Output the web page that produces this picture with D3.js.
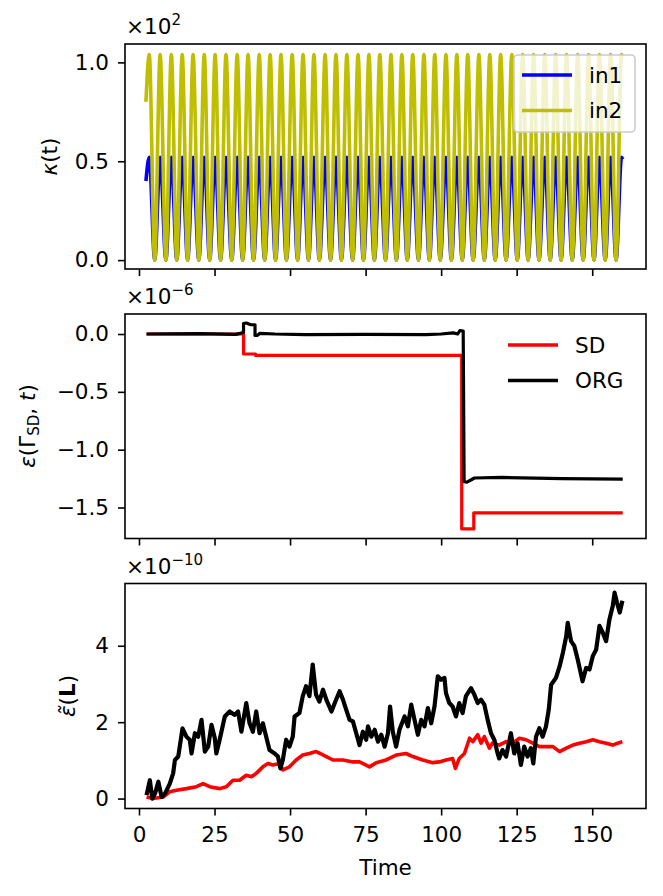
<!DOCTYPE html>
<html>
<head>
<meta charset="utf-8">
<script src="https://cdn.jsdelivr.net/npm/d3@7"></script>
<style>
  body { margin: 0; background: #fff; }
  svg { font-family: "DejaVu Sans", sans-serif; }
</style>
</head>
<body>
<svg id="chart" width="663" height="896"></svg>
<script>
const kappaT = [2.3,
  3.4, 5.2, 7.0, 8.9, 10.7, 12.5, 14.3, 16.1, 17.9, 19.8,
  21.6, 23.4, 25.2, 27.0, 28.8, 30.7, 32.5, 34.3, 36.1, 37.9,
  39.8, 41.6, 43.4, 45.2, 47.0, 48.8, 50.7, 52.5, 54.3, 56.1,
  57.9, 59.7, 61.6, 63.4, 65.2, 67.0, 68.8, 70.7, 72.5, 74.3,
  76.1, 77.9, 79.7, 81.6, 83.4, 85.2, 87.0, 88.8, 90.6, 92.5,
  94.3, 96.1, 97.9, 99.7, 101.6, 103.4, 105.2, 107.0, 108.8, 110.6,
  112.5, 114.3, 116.1, 117.9, 119.7, 121.5, 123.4, 125.2, 127.0, 128.8,
  130.6, 132.4, 134.3, 136.1, 137.9, 139.7, 141.5, 143.4, 145.2, 147.0,
  148.8, 150.6, 152.4, 154.3, 156.1, 157.9, 159.7, 160.1];
const in1Vals = [40,
  52, 0, 52, 0, 52, 0, 52, 0, 52, 0, 52, 0, 52, 0, 52, 0, 52, 0, 52, 0,
  52, 0, 52, 0, 52, 0, 52, 0, 52, 0, 52, 0, 52, 0, 52, 0, 52, 0, 52, 0,
  52, 0, 52, 0, 52, 0, 52, 0, 52, 0, 52, 0, 52, 0, 52, 0, 52, 0, 52, 0,
  52, 0, 52, 0, 52, 0, 52, 0, 52, 0, 52, 0, 52, 0, 52, 0, 52, 0, 52, 0,
  52, 0, 52, 0, 52, 0,
  52, 51];
const in2Vals = [80,
  104, 0, 104, 0, 104, 0, 104, 0, 104, 0, 104, 0, 104, 0, 104, 0, 104, 0, 104, 0,
  104, 0, 104, 0, 104, 0, 104, 0, 104, 0, 104, 0, 104, 0, 104, 0, 104, 0, 104, 0,
  104, 0, 104, 0, 104, 0, 104, 0, 104, 0, 104, 0, 104, 0, 104, 0, 104, 0, 104, 0,
  104, 0, 104, 0, 104, 0, 104, 0, 104, 0, 104, 0, 104, 0, 104, 0, 104, 0, 104, 0,
  104, 0, 104, 0, 104, 0,
  104, 103];

// ---- middle panel: epsilon(Gamma_SD, t), in units of 1e-6
const sdT = [2.5, 34.6, 34.6, 38.6, 38.6, 106.8, 106.8, 110.8, 110.8, 160.1];
const sdV = [0, 0, -0.173, -0.173, -0.185, -0.185, -1.685, -1.685, -1.546, -1.546];
const orgT = [2.5, 20, 32, 33.8, 34.6, 34.6, 35.5, 37.0, 38.4, 38.4, 39.2, 40.0, 45, 55, 75, 95,
  100, 104, 105.5, 106.2, 107.3, 107.6, 108.5, 110, 111, 120, 140, 160.1];
const orgV = [0, 0.003, -0.003, 0.008, 0.014, 0.09, 0.095, 0.08, 0.08, -0.012, -0.012, 0.006, 0, -0.006, -0.004, -0.006,
  0, 0.01, 0, 0.03, 0.025, -1.277, -1.28, -1.26, -1.245, -1.24, -1.25, -1.255];

// ---- bottom panel: tilde epsilon(L), in units of 1e-10
const errOrgT = [2.5, 3.6, 4.4, 5.3, 6.4, 7.5, 8.6, 10.2, 11.3, 11.9, 13.0, 14.4, 15.7, 16.8, 17.4, 18.5, 19.6, 20.7,
  21.8, 22.9, 24.0, 25.1, 25.6, 26.7, 28.4, 30.0, 31.7, 32.8, 33.9, 35.5, 36.6, 37.7, 38.8, 39.9, 41.0, 42.1,
  43.2, 44.9, 46.0, 46.8, 47.6, 48.7, 49.8, 50.9, 51.5, 53.1, 54.2, 55.3, 56.4, 57.5, 58.6, 59.7, 60.9, 62.0,
  63.7, 64.8, 66.4, 67.5, 68.6, 69.7, 70.8, 71.9, 73.0, 74.1, 75.2, 75.8, 76.9, 78.0, 79.1, 80.2, 81.3, 82.4,
  83.1, 84.0, 85.1, 86.2, 87.9, 89.0, 90.1, 91.2, 92.3, 93.4, 94.5, 95.6, 96.7, 97.8, 98.9, 100.0, 101.1,
  101.6, 102.7, 103.8, 104.9, 106.0, 107.1, 108.2, 109.9, 111.0, 112.1, 113.2, 114.3, 115.4, 116.5, 117.6,
  118.7, 119.2, 120.3, 121.5, 123.1, 124.2, 125.3, 126.4, 127.5, 128.6, 129.7, 130.5, 131.4, 132.5, 133.6,
  134.7, 135.6, 136.4, 138.0, 139.2, 140.3, 141.4, 141.9, 143.0, 144.1, 145.2, 146.3, 146.8, 148.0, 149.1,
  150.2, 151.3, 152.4, 153.5, 154.6, 155.7, 156.8, 157.4, 158.2, 159.1, 160.0];
const errOrgV = [0.09, 0.48, 0.0, 0.13, 0.44, 0.04, 0.13, 0.39, 0.66, 1.01, 1.10, 1.84, 1.62, 1.54, 1.18, 1.71, 1.62, 2.06,
  1.23, 1.36, 1.93, 1.58, 1.18, 1.54, 2.15, 2.28, 2.19, 2.28, 1.75, 2.50, 1.97, 1.75, 2.28, 1.71, 1.97, 1.62,
  1.27, 1.18, 1.10, 0.79, 1.01, 1.54, 1.36, 1.62, 2.15, 2.24, 2.68, 2.94, 2.68, 3.51, 2.72, 2.54, 2.85, 2.59,
  2.28, 2.50, 2.81, 2.59, 2.32, 2.06, 2.02, 1.71, 1.40, 1.75, 1.54, 1.89, 1.62, 1.80, 1.49, 1.67, 1.36, 1.71,
  2.41, 1.75, 1.36, 1.80, 2.15, 1.89, 2.46, 2.06, 1.67, 2.06, 1.89, 2.37, 1.97, 2.41, 3.20, 3.11, 3.16,
  2.76, 2.50, 2.41, 2.15, 2.50, 2.24, 2.68, 2.89, 2.72, 2.50, 2.59, 2.46, 2.06, 1.71, 1.54,
  1.18, 1.05, 1.27, 1.10, 1.71, 1.18, 1.45, 0.88, 1.36, 1.10, 1.32, 0.92, 1.62, 1.84, 1.62,
  1.89, 2.32, 2.98, 3.16, 3.46, 3.82, 4.25, 4.60, 4.12, 3.99, 3.64, 3.25, 3.07, 3.42, 3.38,
  3.73, 3.90, 4.52, 4.34, 4.12, 4.69, 5.04, 5.39, 5.13, 4.87, 5.18];
const errSdT = [2.5, 4.7, 8.0, 10.2, 12.4, 15.7, 19.0, 21.2, 23.4, 26.7, 28.9, 31.1, 33.3, 35.5, 37.2, 38.8, 41.0,
  42.7, 44.3, 46.5, 47.6, 49.8, 52.0, 54.2, 56.4, 58.6, 60.0, 62.0, 64.2, 67.5, 70.8, 73.0, 76.3, 78.5, 81.8,
  85.1, 88.4, 90.6, 93.9, 97.2, 99.4, 101.6, 103.8, 104.7, 106.0, 107.7, 109.4, 110.5, 112.1, 113.2, 114.3,
  116.0, 117.0, 119.2, 121.5, 123.7, 125.9, 128.1, 130.3, 132.5, 134.7, 137.0, 139.2, 141.4, 143.6, 145.8,
  148.0, 150.2, 152.4, 154.6, 156.8, 158.4, 160.0];
const errSdV = [0.04, 0.0, 0.04, 0.18, 0.22, 0.26, 0.31, 0.39, 0.31, 0.26, 0.31, 0.48, 0.48, 0.61, 0.57, 0.66, 0.83,
  0.92, 0.88, 0.92, 0.75, 0.83, 1.01, 1.14, 1.18, 1.23, 1.18, 1.10, 1.01, 1.01, 0.96, 0.96, 0.83, 0.94, 1.01,
  1.14, 1.18, 1.10, 1.01, 0.94, 0.96, 1.01, 1.05, 0.79, 1.05, 1.18, 1.58, 1.49, 1.67, 1.45, 1.62,
  1.32, 1.45, 1.40, 1.49, 1.45, 1.58, 1.54, 1.45, 1.36, 1.36, 1.36, 1.23, 1.32, 1.40, 1.45,
  1.49, 1.54, 1.49, 1.45, 1.40, 1.45, 1.49];

const xTicks = [0, 25, 50, 75, 100, 125, 150];

const svg = d3.select("#chart");
const fontSize = 21.5;
const left = 125, right = 646;

// Shared time scale
const x = d3.scaleLinear().domain([-4.63, 167.8]).range([left, right]);

function zip(ts, vs) { return ts.map((t, i) => ({ t: t, v: vs[i] })); }

// Draw one panel: frame, ticks, lines
function drawPanel(p) {
  const y = d3.scaleLinear().domain(p.yDomain).range([p.bottom, p.top]);
  const g = svg.append("g");

  // lines, clipped to the frame
  const clipId = "clip" + Math.round(p.top);
  svg.append("clipPath").attr("id", clipId)
    .append("rect").attr("x", left).attr("y", p.top)
    .attr("width", right - left).attr("height", p.bottom - p.top);

  const line = d3.line().x(d => x(d.t)).y(d => y(d.v)).curve(p.curve || d3.curveLinear);
  p.series.forEach(s => {
    g.append("path")
      .datum(s.data)
      .attr("clip-path", "url(#" + clipId + ")")
      .attr("fill", "none")
      .attr("stroke", s.color)
      .attr("stroke-width", s.width)
      .attr("stroke-linejoin", "round")
      .attr("d", line);
  });

  // y axis
  const yAxis = g.append("g")
    .attr("transform", "translate(" + left + ",0)")
    .call(d3.axisLeft(y).tickValues(p.yTicks).tickFormat(p.yFormat).tickSize(7).tickPadding(9));
  yAxis.select(".domain").remove();
  yAxis.selectAll("line").attr("stroke-width", 1.6);
  yAxis.selectAll("text").attr("font-size", fontSize).attr("fill", "#000")
    .attr("font-family", "DejaVu Sans");

  // x axis
  const xAxis = g.append("g")
    .attr("transform", "translate(0," + p.bottom + ")")
    .call(d3.axisBottom(x).tickValues(xTicks).tickSize(7).tickPadding(11)
      .tickFormat(p.showX ? d3.format("d") : ""));
  xAxis.select(".domain").remove();
  xAxis.selectAll("line").attr("stroke-width", 1.6);
  xAxis.selectAll("text").attr("font-size", fontSize).attr("fill", "#000")
    .attr("font-family", "DejaVu Sans");

  // frame
  g.append("rect")
    .attr("x", left).attr("y", p.top)
    .attr("width", right - left).attr("height", p.bottom - p.top)
    .attr("fill", "none").attr("stroke", "#000").attr("stroke-width", 1.6);

  // offset text (x10^n)
  const off = g.append("text")
    .attr("x", left + 1).attr("y", p.top - 10)
    .attr("font-size", fontSize);
  off.append("tspan").text("\u00d710");
  off.append("tspan").attr("font-size", fontSize * 0.7).attr("dy", -9).text(p.exponent);

  return { g: g, y: y };
}

function yLabel(g, xPos, yPos, build) {
  const t = g.append("text")
    .attr("transform", "translate(" + xPos + "," + yPos + ") rotate(-90)")
    .attr("text-anchor", "middle")
    .attr("font-size", fontSize);
  build(t);
}

function legend(g, items, lx, ty, boxed) {
  if (boxed) {
    g.append("rect")
      .attr("x", lx).attr("y", ty).attr("width", 121).attr("height", 77).attr("rx", 4)
      .attr("fill", "#fff").attr("fill-opacity", 0.8)
      .attr("stroke", "#cccccc").attr("stroke-width", 1.6);
  }
  items.forEach((it, i) => {
    const cy = ty + 20 + i * 35.5;
    g.append("line")
      .attr("x1", lx + 8).attr("x2", lx + 58).attr("y1", cy).attr("y2", cy)
      .attr("stroke", it.color).attr("stroke-width", 3.4);
    g.append("text")
      .attr("x", lx + 75).attr("y", cy + 7.5)
      .attr("font-size", fontSize).text(it.label);
  });
}

// ---- top panel
const topPanel = drawPanel({
  top: 44, bottom: 269,
  yDomain: [-4.5, 109.3],
  yTicks: [0, 50, 100],
  yFormat: d => d3.format(".1f")(d / 100),
  exponent: "2",
  curve: d3.curveMonotoneX,
  series: [
    { data: zip(kappaT, in1Vals), color: "#0000ff", width: 3.6 },
    { data: zip(kappaT, in2Vals), color: "#bfbf00", width: 3.6 }
  ]
});
yLabel(topPanel.g, 57, 156.5, t => {
  t.append("tspan").attr("font-style", "italic").text("\u03ba");
  t.append("tspan").text("(t)");
});
legend(topPanel.g, [{ label: "in1", color: "#0000ff" }, { label: "in2", color: "#bfbf00" }], 514, 55, true);

// ---- middle panel
const minus = d => d3.format(".1f")(d).replace("-", "\u2212");
const midPanel = drawPanel({
  top: 314, bottom: 538.5,
  yDomain: [-1.768, 0.173],
  yTicks: [0, -0.5, -1.0, -1.5],
  yFormat: minus,
  exponent: "\u22126",
  series: [
    { data: zip(sdT, sdV), color: "#ff0000", width: 3.2 },
    { data: zip(orgT, orgV), color: "#000000", width: 3.2 }
  ]
});
yLabel(midPanel.g, 35, 426, t => {
  t.append("tspan").attr("font-style", "italic").text("\u03b5");
  t.append("tspan").text("(\u0393");
  t.append("tspan").attr("font-size", fontSize * 0.7).attr("dy", 4).text("SD");
  t.append("tspan").attr("dy", -4).text(", ");
  t.append("tspan").attr("font-style", "italic").text("t");
  t.append("tspan").text(")");
});
legend(midPanel.g, [{ label: "SD", color: "#ff0000" }, { label: "ORG", color: "#000000" }], 500, 325, false);

// ---- bottom panel
const botPanel = drawPanel({
  top: 583.5, bottom: 808.5,
  yDomain: [-0.26, 5.63],
  yTicks: [0, 2, 4],
  yFormat: d3.format("d"),
  exponent: "\u221210",
  showX: true,
  series: [
    { data: zip(errSdT, errSdV), color: "#ff0000", width: 3.6 },
    { data: zip(errOrgT, errOrgV), color: "#000000", width: 4.2 }
  ]
});
yLabel(botPanel.g, 75, 696, t => {
  t.append("tspan").attr("font-style", "italic").text("\u03b5\u0303");
  t.append("tspan").text("(");
  t.append("tspan").attr("font-weight", "bold").text("L");
  t.append("tspan").text(")");
});

svg.append("text")
  .attr("x", (left + right) / 2).attr("y", 875)
  .attr("text-anchor", "middle")
  .attr("font-size", fontSize)
  .text("Time");
</script>
</body>
</html>
